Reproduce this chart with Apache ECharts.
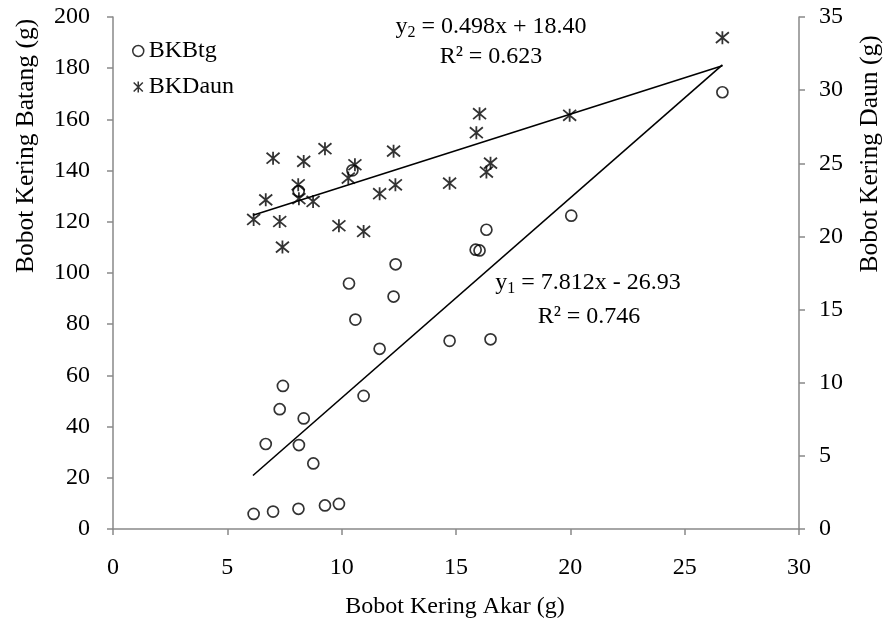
<!DOCTYPE html>
<html>
<head>
<meta charset="utf-8">
<script src="https://cdn.jsdelivr.net/npm/echarts@6/dist/echarts.min.js"></script>
<style>
html,body{margin:0;padding:0;background:#fff;}
#chart{width:886px;height:623px;}
</style>
</head>
<body>
<div id="chart"></div>
<script>
// ---- data ----
var xTicks = [0, 5, 10, 15, 20, 25, 30];
var leftTicks = [0, 20, 40, 60, 80, 100, 120, 140, 160, 180, 200];
var rightTicks = [0, 5, 10, 15, 20, 25, 30, 35];

// BKBtg (left axis): x = Bobot Kering Akar, y = Bobot Kering Batang
var akarBtg = [6.15, 6.68, 7.0, 7.29, 7.43, 8.11, 8.12, 8.13, 8.34, 8.76, 9.27, 9.88, 10.32, 10.47, 10.6, 10.96, 11.66, 12.27, 12.36, 14.72, 15.86, 16.03, 16.33, 16.51, 20.04, 26.65];
var btg = [5.9, 33.2, 6.8, 46.8, 55.9, 7.9, 132.0, 32.8, 43.2, 25.6, 9.2, 9.8, 95.9, 140.1, 81.8, 52.0, 70.4, 90.8, 103.4, 73.5, 109.1, 108.8, 116.9, 74.1, 122.4, 170.6];

// BKDaun (right axis): x = Bobot Kering Akar, y = Bobot Kering Daun
var akarDaun = [6.15, 6.68, 7.0, 7.29, 7.41, 8.1, 8.13, 8.34, 8.75, 9.27, 9.88, 10.29, 10.58, 10.96, 11.66, 12.27, 12.35, 14.72, 15.89, 16.03, 16.33, 16.51, 19.97, 26.65];
var daun = [21.16, 22.5, 25.35, 21.02, 19.27, 23.53, 22.58, 25.13, 22.39, 26.0, 20.73, 23.99, 24.9, 20.34, 22.92, 25.83, 23.53, 23.64, 27.09, 28.39, 24.4, 25.01, 28.28, 33.59];

// trend line end points
var trendX = [6.12, 26.65];
var trendBtg = [20.9, 181.3];
var trendDaun = [21.45, 31.67];

var seriesNames = ['BKBtg', 'BKDaun'];
var eq2Lines = ['y', '2', ' = 0.498x + 18.40', 'R² = 0.623'];
var eq1Lines = ['y', '1', ' = 7.812x - 26.93', 'R² = 0.746'];
var titles = ['Bobot Kering Akar (g)', 'Bobot Kering Batang (g)', 'Bobot Kering Daun (g)'];

function zip(xs, ys) { return xs.map(function (x, i) { return [x, ys[i]]; }); }

var FONT = 'Liberation Serif, Times New Roman, serif';
var FS = 24;
var XTFS = 24;
var YTFS = 25.5;
var AX = '#898989';
var STAR = 'path://M0,0 L10,10 M10,0 L0,10 M5,-1 L5,11';

var chart = echarts.init(document.getElementById('chart'));
var axisCommon = {
  axisLine: { show: true, lineStyle: { color: AX, width: 1.5 } },
  axisTick: { show: true, inside: false, length: 6, lineStyle: { color: AX, width: 1.5 } },
  splitLine: { show: false },
  axisLabel: { color: '#000', fontFamily: FONT, fontSize: FS }
};
var richEq = {
  a: { fontFamily: FONT, fontSize: FS, lineHeight: 28, fill: '#000', verticalAlign: 'middle' },
  s: { fontFamily: FONT, fontSize: 16, lineHeight: 15, fill: '#000', verticalAlign: 'bottom' }
};
var option = {
  backgroundColor: '#fff',
  animation: false,
  grid: { left: 113, right: 87, top: 17, bottom: 94, containLabel: false },
  legend: {
    data: seriesNames,
    orient: 'vertical',
    left: 127, top: 34,
    padding: 5,
    itemWidth: 11, itemHeight: 11, itemGap: 12,
    itemStyle: { borderWidth: 1.5 },
    textStyle: { color: '#000', fontFamily: FONT, fontSize: FS }
  },
  xAxis: Object.assign({}, axisCommon, {
    type: 'value', min: xTicks[0], max: xTicks[xTicks.length - 1], interval: 5,
    axisLabel: Object.assign({}, axisCommon.axisLabel, { margin: 27 })
  }),
  yAxis: [
    Object.assign({}, axisCommon, {
      type: 'value', position: 'left', min: leftTicks[0], max: leftTicks[leftTicks.length - 1], interval: 20,
      axisLabel: Object.assign({}, axisCommon.axisLabel, { margin: 23 })
    }),
    Object.assign({}, axisCommon, {
      type: 'value', position: 'right', min: rightTicks[0], max: rightTicks[rightTicks.length - 1], interval: 5,
      axisLabel: Object.assign({}, axisCommon.axisLabel, { margin: 20 })
    })
  ],
  series: [
    {
      name: seriesNames[0], type: 'scatter', yAxisIndex: 0,
      symbol: 'circle', symbolSize: 11,
      itemStyle: { color: 'rgba(255,255,255,0)', borderColor: '#000', borderWidth: 1.7 },
      data: zip(akarBtg, btg), z: 3
    },
    {
      name: seriesNames[1], type: 'scatter', yAxisIndex: 1,
      symbol: STAR, symbolSize: 13,
      itemStyle: { color: 'rgba(255,255,255,0)', borderColor: '#000', borderWidth: 1.8 },
      data: zip(akarDaun, daun), z: 3
    },
    {
      name: 'trendBtg', type: 'line', yAxisIndex: 0, showSymbol: false, symbol: 'none',
      lineStyle: { color: '#000', width: 1.6 }, data: zip(trendX, trendBtg), z: 2
    },
    {
      name: 'trendDaun', type: 'line', yAxisIndex: 1, showSymbol: false, symbol: 'none',
      lineStyle: { color: '#000', width: 1.6 }, data: zip(trendX, trendDaun), z: 2
    }
  ],
  graphic: [
    { type: 'text', x: 455, y: 607, style: { text: titles[0], font: XTFS + 'px ' + FONT, fill: '#000', align: 'center', verticalAlign: 'middle' } },
    { type: 'text', x: 26, y: 146, rotation: Math.PI / 2, style: { text: titles[1], font: YTFS + 'px ' + FONT, fill: '#000', align: 'center', verticalAlign: 'middle' } },
    { type: 'text', x: 870, y: 154, rotation: Math.PI / 2, style: { text: titles[2], font: YTFS + 'px ' + FONT, fill: '#000', align: 'center', verticalAlign: 'middle' } },
    { type: 'text', x: 491, y: 27, style: {
        text: '{a|' + eq2Lines[0] + '}{s|' + eq2Lines[1] + '}{a|' + eq2Lines[2] + '}',
        align: 'center', verticalAlign: 'middle', rich: richEq } },
    { type: 'text', x: 491, y: 57, style: { text: eq2Lines[3], font: FS + 'px ' + FONT, fill: '#000', align: 'center', verticalAlign: 'middle' } },
    { type: 'text', x: 588, y: 283, style: {
        text: '{a|' + eq1Lines[0] + '}{s|' + eq1Lines[1] + '}{a|' + eq1Lines[2] + '}',
        align: 'center', verticalAlign: 'middle', rich: richEq } },
    { type: 'text', x: 589, y: 317, style: { text: eq1Lines[3], font: FS + 'px ' + FONT, fill: '#000', align: 'center', verticalAlign: 'middle' } }
  ]
};
chart.setOption(option);
</script>
</body>
</html>
